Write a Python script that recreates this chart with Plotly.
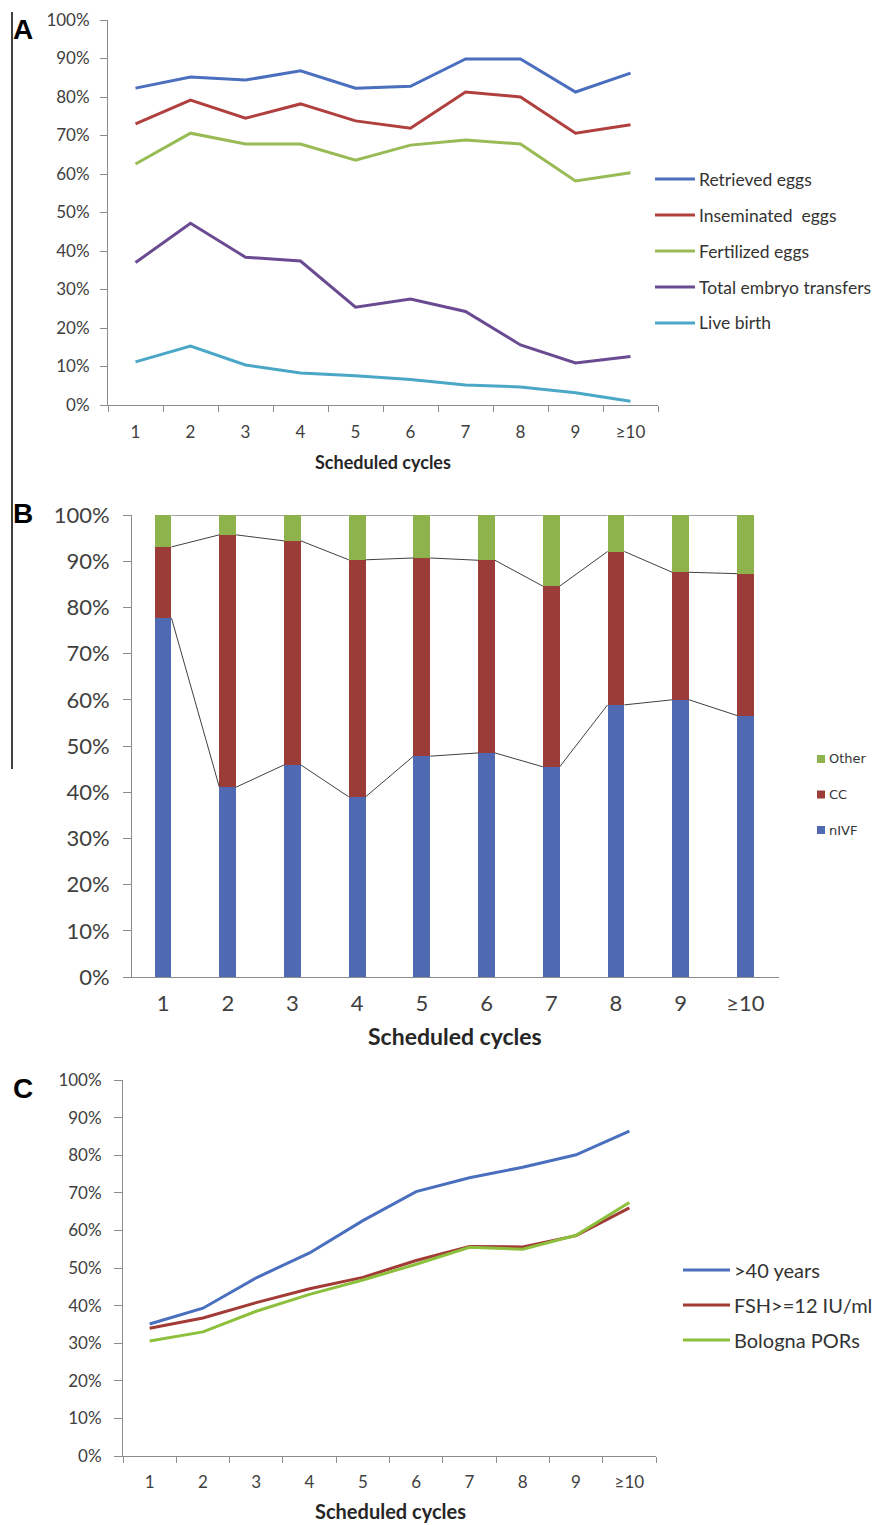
import plotly.graph_objects as go

W, H = 880, 1525

cycles = ["1", "2", "3", "4", "5", "6", "7", "8", "9", "≥10"]

# Panel A: outcome rates per scheduled cycle (%)
retrieved = [82.3, 85.2, 84.4, 86.8, 82.3, 82.8, 89.9, 89.9, 81.3, 86.2]
inseminated = [73.0, 79.2, 74.5, 78.2, 73.8, 71.9, 81.3, 80.0, 70.6, 72.8]
fertilized = [62.6, 70.6, 67.8, 67.8, 63.6, 67.5, 68.8, 67.8, 58.2, 60.3]
embryo_transfers = [37.0, 47.2, 38.4, 37.4, 25.4, 27.5, 24.3, 15.6, 10.9, 12.6]
live_birth = [11.2, 15.3, 10.4, 8.3, 7.6, 6.6, 5.2, 4.7, 3.2, 1.0]

# Panel B: stimulation protocol mix per cycle (%)
nivf = [77.7, 41.1, 45.9, 39.0, 47.8, 48.5, 45.5, 58.9, 60.0, 56.6]
cc = [15.4, 54.6, 48.5, 51.3, 42.9, 41.7, 39.1, 33.2, 27.6, 30.7]
other = [6.9, 4.3, 5.6, 9.7, 9.3, 9.8, 15.4, 7.9, 12.4, 12.7]

# Panel C: share of poor-responder groups (%)
over40 = [35.1, 39.3, 47.4, 54.0, 62.6, 70.3, 74.0, 76.8, 80.1, 86.4]
fsh12 = [34.0, 36.7, 40.8, 44.5, 47.5, 52.0, 55.7, 55.6, 58.6, 66.0]
bologna = [30.6, 33.0, 38.5, 43.0, 46.8, 51.0, 55.5, 55.0, 58.7, 67.4]

FONT = "Lato"
TICK_COL = "#404040"
AXIS_COL = "#8c8c8c"


def px_x(a, b):
    return [a / W, b / W]


def px_y(top, bottom):
    return [1 - bottom / H, 1 - top / H]


fig = go.Figure()

# ---------- Panel A ----------
a_series = [
    ("Retrieved eggs", retrieved, "#4a6fbe"),
    ("Inseminated  eggs", inseminated, "#b0403e"),
    ("Fertilized eggs", fertilized, "#98bb55"),
    ("Total embryo transfers", embryo_transfers, "#6a4b92"),
    ("Live birth", live_birth, "#4aa7c6"),
]
for name, vals, col in a_series:
    fig.add_trace(go.Scatter(x=cycles, y=vals, mode="lines", name=name,
                             line=dict(color=col, width=3),
                             xaxis="x", yaxis="y", showlegend=False))

# ---------- Panel B ----------
bw = 0.26
xs = list(range(len(cycles)))
b_series = [("nIVF", nivf, "#4f6ab3"), ("CC", cc, "#9c3c39"), ("Other", other, "#8fb34c")]
for name, vals, col in b_series:
    fig.add_trace(go.Bar(x=xs, y=vals, name=name, marker=dict(color=col, line=dict(width=0)),
                         width=bw, xaxis="x2", yaxis="y2", showlegend=False))

# series lines linking segment tops of neighbouring bars
cum1 = nivf
cum2 = [a + b for a, b in zip(nivf, cc)]
cum3 = [a + b + c for a, b, c in zip(nivf, cc, other)]
for cum in (cum1, cum2, cum3):
    lx, ly = [], []
    for i in range(len(xs) - 1):
        lx += [xs[i] + bw / 2, xs[i + 1] - bw / 2, None]
        ly += [cum[i], cum[i + 1], None]
    fig.add_trace(go.Scatter(x=lx, y=ly, mode="lines", line=dict(color="#404040", width=1),
                             xaxis="x2", yaxis="y2", showlegend=False, hoverinfo="skip"))

# ---------- Panel C ----------
c_series = [
    (">40 years", over40, "#4a6fbe"),
    ("FSH>=12 IU/ml", fsh12, "#a23b36"),
    ("Bologna PORs", bologna, "#8cc03c"),
]
for name, vals, col in c_series:
    fig.add_trace(go.Scatter(x=cycles, y=vals, mode="lines", name=name,
                             line=dict(color=col, width=3),
                             xaxis="x3", yaxis="y3", showlegend=False))

yax_common = dict(range=[0, 100], dtick=10, ticksuffix="%", showgrid=False, zeroline=False,
                  showline=True, linecolor=AXIS_COL, linewidth=1, ticks="outside",
                  tickcolor=AXIS_COL, fixedrange=True, automargin=False)

cat_common = dict(type="category", tickson="boundaries", ticks="outside", ticklen=6,
                  tickcolor=AXIS_COL, showline=True, linecolor=AXIS_COL, showgrid=False,
                  range=[-0.5, 9.5], automargin=False)

fig.update_layout(
    width=W, height=H, margin=dict(l=0, r=0, t=0, b=0, autoexpand=False),
    paper_bgcolor="white", plot_bgcolor="white",
    barmode="stack", showlegend=False,
    font=dict(family=FONT, color=TICK_COL),
    xaxis=dict(domain=px_x(108, 658), anchor="y", tickfont=dict(size=17, color=TICK_COL),
               ticklabelstandoff=12, **cat_common),
    yaxis=dict(domain=px_y(20, 405), anchor="x", tickfont=dict(size=17, color=TICK_COL),
               ticklen=7, ticklabelstandoff=7, **yax_common),
    xaxis2=dict(domain=px_x(132, 779), anchor="y2", range=[-0.48, 9.52], tickvals=xs,
                ticktext=cycles, ticks="", showline=True, linecolor=AXIS_COL,
                showgrid=False, zeroline=False, automargin=False, ticklabelstandoff=7,
                tickfont=dict(size=22, color=TICK_COL)),
    yaxis2=dict(domain=px_y(515, 977), anchor="x2", tickfont=dict(size=22, color=TICK_COL),
                ticklen=8, ticklabelstandoff=9, **yax_common),
    xaxis3=dict(domain=px_x(123, 656), anchor="y3", tickfont=dict(size=17, color=TICK_COL),
                ticklabelstandoff=11, **cat_common),
    yaxis3=dict(domain=px_y(1080, 1456), anchor="x3", tickfont=dict(size=17, color=TICK_COL),
                ticklen=8, ticklabelstandoff=9, **yax_common),
)

ann = []
shapes = []

# panel letters
for letter, y in (("A", 30), ("B", 513), ("C", 1088)):
    ann.append(dict(text="<b>" + letter + "</b>", x=11 / W, y=1 - y / H, xref="paper", yref="paper",
                    xanchor="left", yanchor="middle", showarrow=False,
                    font=dict(family="Liberation Sans", size=28, color="black")))

# axis titles
for x, y, size in ((383, 462, 18), (455, 1036, 23), (390, 1511, 20)):
    ann.append(dict(text="<b>Scheduled cycles</b>", x=x / W, y=1 - y / H, xref="paper", yref="paper",
                    xanchor="center", yanchor="middle", showarrow=False,
                    font=dict(size=size, color="#262626")))

# left frame line
shapes.append(dict(type="line", xref="paper", yref="paper", x0=12 / W, x1=12 / W,
                   y0=1 - 12 / H, y1=1 - 769 / H, line=dict(color="black", width=1.5)))

# panel A legend
for i, (name, vals, col) in enumerate(a_series):
    yy = 1 - (179 + i * 36) / H
    shapes.append(dict(type="line", xref="paper", yref="paper", x0=655 / W, x1=695 / W,
                       y0=yy, y1=yy, line=dict(color=col, width=3)))
    ann.append(dict(text=name, x=697 / W, y=yy, xref="paper", yref="paper", xanchor="left",
                    yanchor="middle", showarrow=False, font=dict(size=17.5, color="#333333")))

# panel B legend
for i, (name, vals, col) in enumerate(reversed(b_series)):
    yy = 1 - (759 + i * 35.5) / H
    shapes.append(dict(type="rect", xref="paper", yref="paper", x0=817 / W, x1=825 / W,
                       y0=yy - 4 / H, y1=yy + 4 / H, fillcolor=col, line=dict(width=0)))
    ann.append(dict(text=name, x=827 / W, y=yy, xref="paper", yref="paper", xanchor="left",
                    yanchor="middle", showarrow=False,
                    font=dict(family="DejaVu Sans", size=13, color="#333333")))

# panel C legend
for i, (name, vals, col) in enumerate(c_series):
    yy = 1 - (1270 + i * 35) / H
    shapes.append(dict(type="line", xref="paper", yref="paper", x0=683 / W, x1=730 / W,
                       y0=yy, y1=yy, line=dict(color=col, width=3)))
    ann.append(dict(text=name, x=732 / W, y=yy, xref="paper", yref="paper", xanchor="left",
                    yanchor="middle", showarrow=False, font=dict(size=20, color="#333333")))

fig.update_layout(annotations=ann, shapes=shapes)
fig.write_html("out.html")
